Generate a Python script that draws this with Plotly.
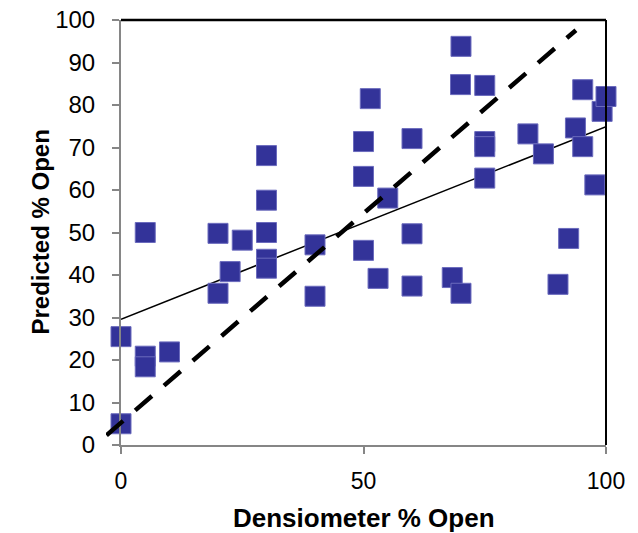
import plotly.graph_objects as go

# Observed points (Densiometer % Open vs Predicted % Open)
dens_open = [0, 0, 5, 5, 10, 5, 20, 20, 22.5, 25, 30, 30, 30, 30, 30, 40, 40,
             50, 50, 51.4, 50, 53, 55, 60, 60, 60, 68.3, 70.1, 70.1, 70, 75, 75,
             75, 75, 83.9, 87.1, 90.1, 92.3, 93.7, 95.2, 95.2, 97.7, 99.2, 100]
pred_open = [25.5, 5, 20.9, 18.4, 21.9, 50, 49.8, 35.7, 40.8, 48.2, 68.1, 57.6,
             50, 43.7, 41.6, 47.1, 35, 71.4, 63.2, 81.5, 45.8, 39.2, 58.1, 72.1,
             49.7, 37.4, 39.4, 35.7, 93.8, 84.8, 84.6, 71.4, 70.2, 62.8, 73.2,
             68.5, 37.8, 48.6, 74.6, 83.6, 70.2, 61.2, 78.5, 82]

# Linear trend line end points
trend_x = [0, 100]
trend_y = [29.6, 74.9]

# 1:1 reference (dashed) line end points
ref_x = [-3, 93.8]
ref_y = [2.3, 97.6]

x_ticks = [0, 50, 100]
y_ticks = [0, 10, 20, 30, 40, 50, 60, 70, 80, 90, 100]
x_title = "Densiometer % Open"
y_title = "Predicted % Open"

FONT = "Liberation Sans, Arial, sans-serif"

# layout geometry
W, H = 638, 533
ML, MR, MT, MB = 106, 32, 20, 88
EXTRA_LEFT = 15                      # px the dashed line reaches left of the y axis
plot_w = W - ML - MR
main_dom0 = EXTRA_LEFT / plot_w
px_per_unit = plot_w * (1 - main_dom0) / 100.0
x2_min = -EXTRA_LEFT / px_per_unit

fig = go.Figure()
fig.add_trace(go.Scatter(
    x=ref_x, y=ref_y, mode="lines", xaxis="x2", yaxis="y",
    line=dict(color="black", width=4.5, dash="22px,16px"), showlegend=False))
fig.add_trace(go.Scatter(
    x=trend_x, y=trend_y, mode="lines",
    line=dict(color="black", width=1.5), showlegend=False))
fig.add_trace(go.Scatter(
    x=dens_open, y=pred_open, mode="markers", cliponaxis=False,
    marker=dict(symbol="square", size=20, color="#333399",
                line=dict(color="#6b6bbd", width=1)),
    showlegend=False, hoverinfo="x+y"))

fig.update_layout(
    width=W, height=H,
    margin=dict(l=ML, r=MR, t=MT, b=MB),
    paper_bgcolor="white", plot_bgcolor="rgba(0,0,0,0)",
    font=dict(family=FONT, color="black"),
    xaxis=dict(domain=[main_dom0, 1], range=[0, 100], tickvals=x_ticks,
               showgrid=False, zeroline=False, automargin=False,
               showline=True, linecolor="#868686", linewidth=2,
               ticks="outside", ticklen=7, tickwidth=1.5, tickcolor="#868686",
               tickfont=dict(size=23, family=FONT), ticklabelstandoff=7),
    xaxis2=dict(domain=[0, 1], range=[x2_min, 100], anchor="y", visible=False,
                fixedrange=True),
    yaxis=dict(range=[0, 100], tickvals=y_ticks, showgrid=False, zeroline=False,
               automargin=False,
               showline=True, linecolor="#868686", linewidth=2,
               ticks="outside", ticklen=7, tickwidth=1.5, tickcolor="#868686",
               tickfont=dict(size=24, family=FONT), ticklabelstandoff=12),
    annotations=[
        dict(text="<b>%s</b>" % x_title, xref="paper", yref="paper",
             x=(main_dom0 + 1) / 2, y=0, xanchor="center", yanchor="middle",
             yshift=-73, showarrow=False, font=dict(size=26, family=FONT)),
        dict(text="<b>%s</b>" % y_title, xref="paper", yref="paper",
             x=main_dom0, y=0.5, xanchor="center", yanchor="middle",
             xshift=-81, textangle=-90, showarrow=False,
             font=dict(size=24, family=FONT)),
    ],
    shapes=[
        dict(type="line", xref="paper", yref="paper", x0=main_dom0, x1=1, y0=1, y1=1,
             line=dict(color="black", width=2.5)),
        dict(type="line", xref="paper", yref="paper", x0=1, x1=1, y0=0, y1=1,
             line=dict(color="black", width=2)),
    ],
)

fig.write_html("out.html")
